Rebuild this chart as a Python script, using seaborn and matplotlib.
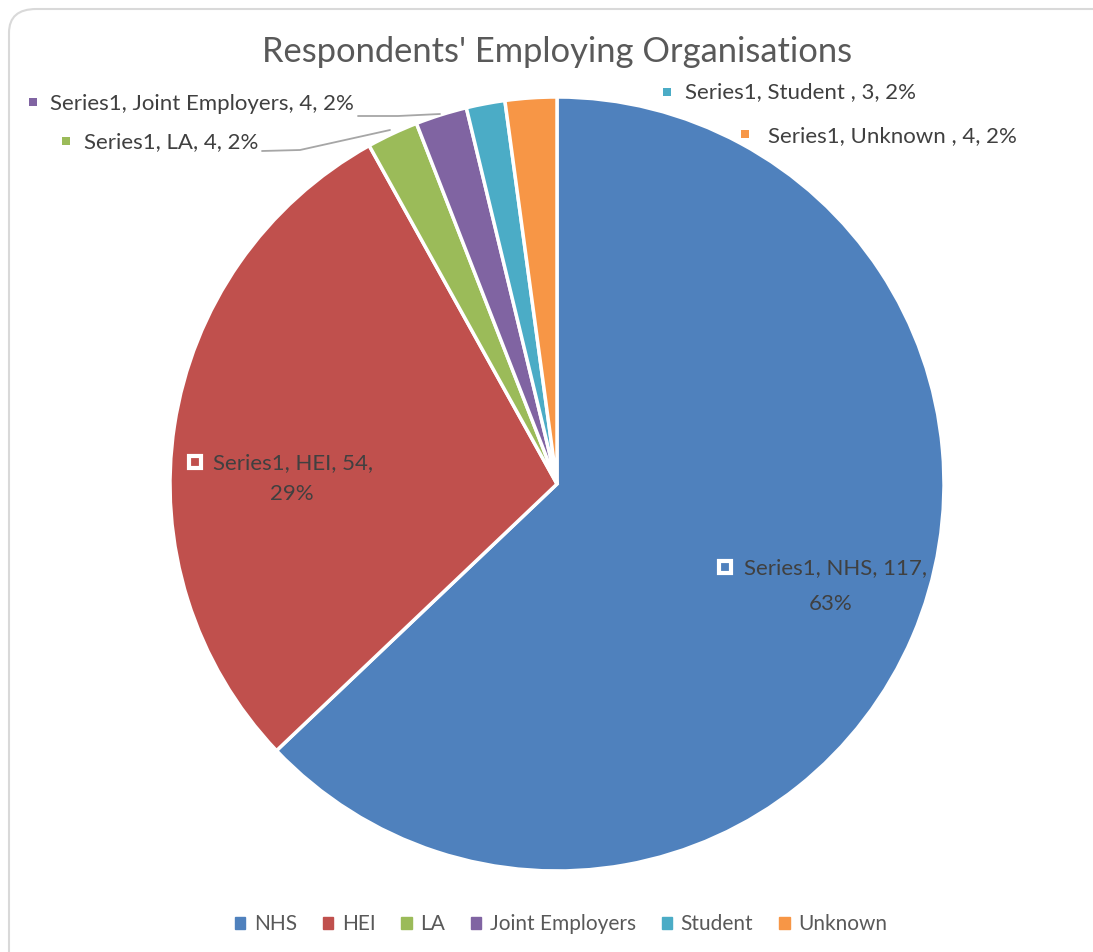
import matplotlib
matplotlib.use("Agg")
import matplotlib.pyplot as plt
import seaborn as sns
from matplotlib.patches import FancyBboxPatch, Patch, Rectangle

categories = ["NHS", "HEI", "LA", "Joint Employers", "Student", "Unknown"]
label_names = ["NHS", "HEI", "LA", "Joint Employers", "Student ", "Unknown "]
values = [117, 54, 4, 4, 3, 4]
percents = ["63%", "29%", "2%", "2%", "2%", "2%"]
colors = ["#4F81BD", "#C0504D", "#9BBB59", "#8064A2", "#4BACC6", "#F79646"]

sns.set_theme(style="white")
plt.rcParams['font.family'] = ['Lato', 'DejaVu Sans']

W, H = 1093, 952
fig = plt.figure(figsize=(W / 100, H / 100), dpi=100)

def fx(x):
    return x / W

def fy(y):
    return 1 - y / H

# card border
card = FancyBboxPatch((fx(9), fy(952 + 40)), fx(1093 + 40), (952 + 40 - 9) / H,
                      boxstyle="round,pad=0,rounding_size=0.025", transform=fig.transFigure,
                      facecolor="none", edgecolor="#D9D9D9", linewidth=1.5, zorder=0)
fig.patches.append(card)

cx, cy, r = 557, 484, 387
ax = fig.add_axes([fx(cx - r), fy(cy + r), 2 * r / W, 2 * r / H])
ax.pie(values, colors=colors, startangle=90, counterclock=False,
       wedgeprops=dict(edgecolor="white", linewidth=2.5), radius=1.0)
ax.set_xlim(-1, 1)
ax.set_ylim(-1, 1)
ax.set_aspect("auto")
ax.axis("off")

fig.text(fx(557), fy(52), "Respondents' Employing Organisations", ha="center", va="center",
         fontsize=24.8, color="#595959")

txt_color = "#404040"
fs = 16

def sq(x, y, color, size=10, edge=None, lw=0):
    s = Rectangle((fx(x - size / 2), fy(y + size / 2)), size / W, size / H,
                  transform=fig.transFigure, facecolor=color,
                  edgecolor=edge if edge else color, linewidth=lw, zorder=5)
    fig.add_artist(s)

def lbl(i):
    return f"Series1, {label_names[i]}, {values[i]}, {percents[i]}"

# inside labels
sq(195, 462, colors[1], size=12, edge="white", lw=3)
fig.text(fx(213), fy(463), f"Series1, {label_names[1]}, {values[1]},", ha="left", va="center",
         fontsize=fs, color=txt_color)
fig.text(fx(292), fy(494), percents[1], ha="center", va="center", fontsize=fs, color=txt_color)

sq(725, 567, colors[0], size=12, edge="white", lw=3)
fig.text(fx(744), fy(568), f"Series1, {label_names[0]}, {values[0]},", ha="left", va="center",
         fontsize=fs, color=txt_color)
fig.text(fx(831), fy(604), percents[0], ha="center", va="center", fontsize=fs, color=txt_color)

# outside labels
sq(33, 102, colors[3], size=8)
fig.text(fx(50), fy(104), lbl(3), ha="left", va="center", fontsize=fs, color=txt_color)
sq(66, 141, colors[2], size=8)
fig.text(fx(84), fy(142), lbl(2), ha="left", va="center", fontsize=fs, color=txt_color)
sq(667, 92, colors[4], size=8)
fig.text(fx(685), fy(92), lbl(4), ha="left", va="center", fontsize=fs, color=txt_color)
sq(745, 134, colors[5], size=8)
fig.text(fx(768), fy(136), lbl(5), ha="left", va="center", fontsize=fs, color=txt_color)

# leader lines
fig.add_artist(plt.Line2D([fx(358), fx(398), fx(440)], [fy(116), fy(116), fy(114)],
                          transform=fig.transFigure, color="#A6A6A6", linewidth=1.3))
fig.add_artist(plt.Line2D([fx(262), fx(300), fx(390)], [fy(151), fy(150), fy(130)],
                          transform=fig.transFigure, color="#A6A6A6", linewidth=1.3))

handles = [Patch(facecolor=c, edgecolor=c) for c in colors]
fig.legend(handles, categories, loc="center", bbox_to_anchor=(fx(561), fy(924)), ncol=6,
           frameon=False, fontsize=15, handlelength=0.5, handleheight=0.5,
           handletextpad=0.4, columnspacing=1.25, labelcolor="#595959")

fig.savefig("out.png", dpi=100)
